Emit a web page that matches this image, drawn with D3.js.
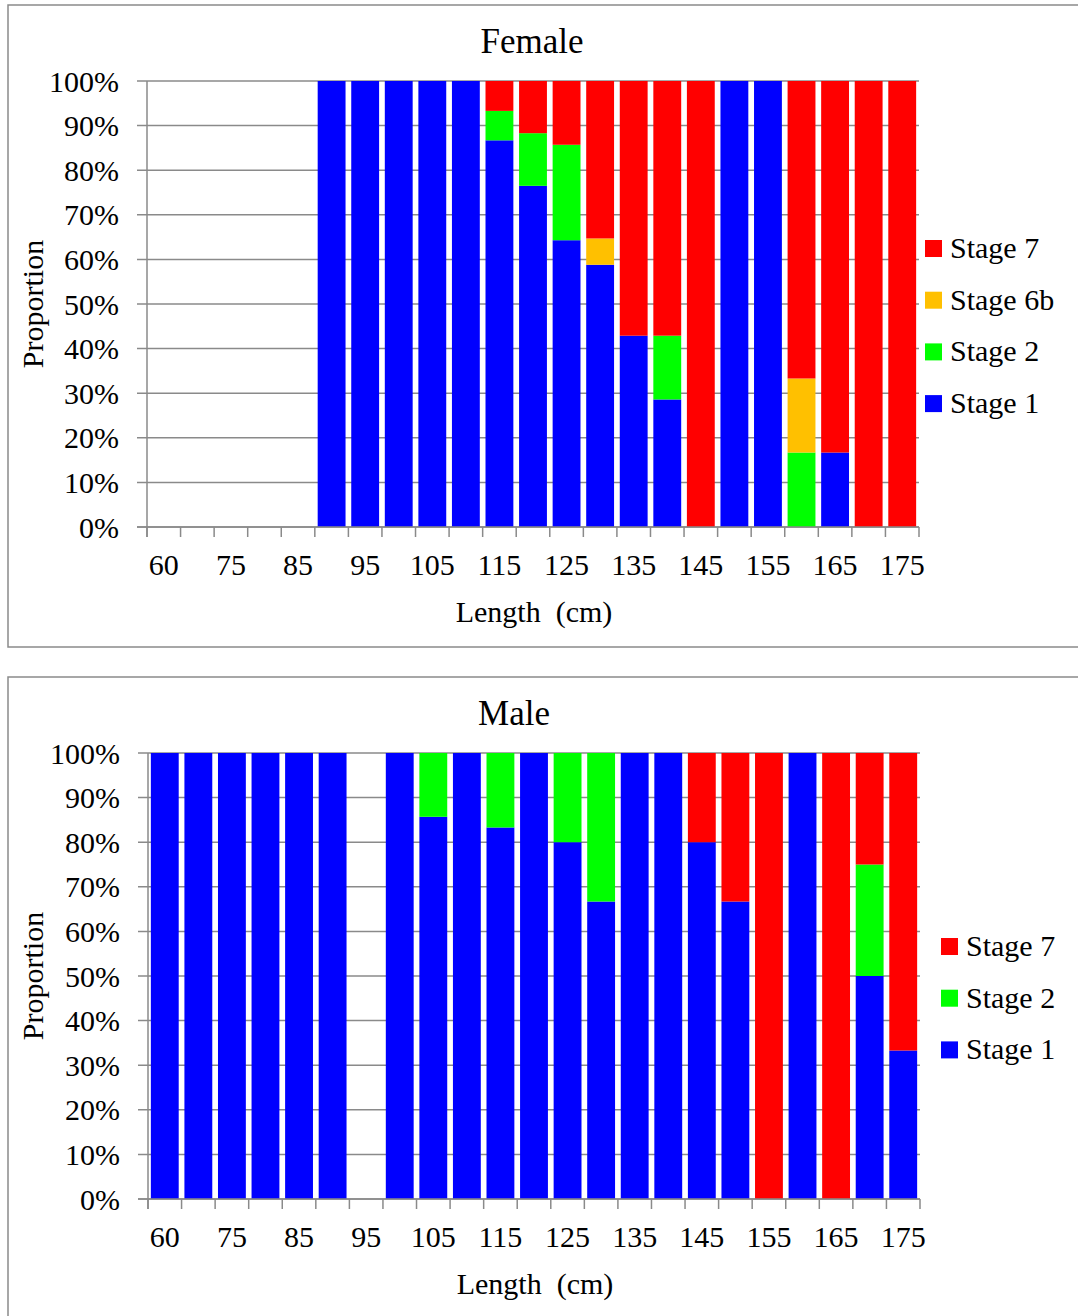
<!DOCTYPE html>
<html>
<head>
<meta charset="utf-8">
<script src="https://cdn.jsdelivr.net/npm/d3@7"></script>
<style>
  html, body { margin: 0; padding: 0; background: #fff; }
  svg { display: block; }
  text { font-family: "Liberation Serif", "Times New Roman", serif; fill: #000; }
</style>
</head>
<body>
<svg id="chart" width="1078" height="1316"></svg>
<script>
// ---------- DATA ----------
const categories = ["60","70","75","80","85","90","95","100","105","110","115","120","125","130","135","140","145","150","155","160","165","170","175"];
const tickLabels = ["60","75","85","95","105","115","125","135","145","155","165","175"];
const yTicks = [0,10,20,30,40,50,60,70,80,90,100];

// Female proportions (%)
const femaleStage1  = [0,0,0,0,0,100,100,100,100,100,86.7,76.5,64.3,58.8,42.9,28.6,0,100,100,0,16.7,0,0];
const femaleStage2  = [0,0,0,0,0,0,0,0,0,0,6.6,11.8,21.4,0,0,14.3,0,0,0,16.7,0,0,0];
const femaleStage6b = [0,0,0,0,0,0,0,0,0,0,0,0,0,5.9,0,0,0,0,0,16.6,0,0,0];
const femaleStage7  = [0,0,0,0,0,0,0,0,0,0,6.7,11.7,14.3,35.3,57.1,57.1,100,0,0,66.7,83.3,100,100];

// Male proportions (%)
const maleStage1 = [100,100,100,100,100,100,0,100,85.7,100,83.3,100,80,66.7,100,100,80,66.7,0,100,0,50,33.3];
const maleStage2 = [0,0,0,0,0,0,0,0,14.3,0,16.7,0,20,33.3,0,0,0,0,0,0,0,25,0];
const maleStage7 = [0,0,0,0,0,0,0,0,0,0,0,0,0,0,0,0,20,33.3,100,0,100,25,66.7];

const stageColors = {"Stage 1":"#0000FF","Stage 2":"#00FF00","Stage 6b":"#FFC000","Stage 7":"#FF0000"};

// ---------- LAYOUT ----------
const panels = [
  {
    title: "Female",
    series: {"Stage 1": femaleStage1, "Stage 2": femaleStage2, "Stage 6b": femaleStage6b, "Stage 7": femaleStage7},
    keys: ["Stage 1","Stage 2","Stage 6b","Stage 7"],
    frame: {x: 8, y: 5, w: 1090, h: 642},
    plot: {x0: 147, x1: 919, y0: 81, y1: 527},
    titleX: 532, titleY: 53,
    yLabelX: 33,
    xTickY: 575, xLabelX: 534, xLabelY: 622,
    legendX: 925, legendY: 240
  },
  {
    title: "Male",
    series: {"Stage 1": maleStage1, "Stage 2": maleStage2, "Stage 7": maleStage7},
    keys: ["Stage 1","Stage 2","Stage 7"],
    frame: {x: 8, y: 677, w: 1090, h: 660},
    plot: {x0: 148, x1: 920, y0: 753, y1: 1199},
    titleX: 514, titleY: 725,
    yLabelX: 33,
    xTickY: 1247, xLabelX: 535, xLabelY: 1294,
    legendX: 941, legendY: 938
  }
];

const svg = d3.select("#chart");
const gridColor = "#8a8a8a";

panels.forEach(p => {
  const g = svg.append("g");

  g.append("rect")
    .attr("x", p.frame.x).attr("y", p.frame.y)
    .attr("width", p.frame.w).attr("height", p.frame.h)
    .attr("fill", "#fff").attr("stroke", gridColor).attr("stroke-width", 1.5);

  const x = d3.scaleBand().domain(categories)
    .range([p.plot.x0, p.plot.x1]).paddingInner(0.17).paddingOuter(0.085);
  const y = d3.scaleLinear().domain([0, 100]).range([p.plot.y1, p.plot.y0]);

  // gridlines
  g.append("g").selectAll("line").data(yTicks).join("line")
    .attr("x1", p.plot.x0 - 10).attr("x2", p.plot.x1)
    .attr("y1", d => y(d)).attr("y2", d => y(d))
    .attr("stroke", gridColor).attr("stroke-width", 1.5);

  // y tick labels
  g.append("g").selectAll("text").data(yTicks).join("text")
    .attr("x", p.plot.x0 - 28).attr("y", d => y(d))
    .attr("dy", "0.35em").attr("text-anchor", "end")
    .attr("font-size", 30)
    .text(d => d + "%");

  // stacked bars
  const rows = categories.map((c, i) => {
    const r = {cat: c};
    p.keys.forEach(k => r[k] = p.series[k][i]);
    return r;
  });
  const stacked = d3.stack().keys(p.keys)(rows);
  g.append("g").selectAll("g").data(stacked).join("g")
    .attr("fill", d => stageColors[d.key])
    .selectAll("rect").data(d => d.filter(s => s[1] - s[0] > 0)).join("rect")
    .attr("x", d => x(d.data.cat))
    .attr("width", x.bandwidth())
    .attr("y", d => y(d[1]))
    .attr("height", d => y(d[0]) - y(d[1]));

  // axes lines
  g.append("line")
    .attr("x1", p.plot.x0).attr("x2", p.plot.x0)
    .attr("y1", p.plot.y0).attr("y2", p.plot.y1 + 10)
    .attr("stroke", gridColor).attr("stroke-width", 1.5);
  g.append("line")
    .attr("x1", p.plot.x0 - 10).attr("x2", p.plot.x1)
    .attr("y1", p.plot.y1).attr("y2", p.plot.y1)
    .attr("stroke", gridColor).attr("stroke-width", 1.5);

  // x tick marks at category boundaries
  const bounds = categories.map(c => x(c) - x.step() * x.paddingInner() / 2);
  bounds.push(p.plot.x1);
  g.append("g").selectAll("line").data(bounds).join("line")
    .attr("x1", d => d).attr("x2", d => d)
    .attr("y1", p.plot.y1).attr("y2", p.plot.y1 + 10)
    .attr("stroke", gridColor).attr("stroke-width", 1.5);

  // x tick labels
  g.append("g").selectAll("text").data(tickLabels).join("text")
    .attr("x", d => x(d) + x.bandwidth() / 2)
    .attr("y", p.xTickY)
    .attr("text-anchor", "middle").attr("font-size", 30)
    .text(d => d);

  // title
  g.append("text").attr("x", p.titleX).attr("y", p.titleY)
    .attr("text-anchor", "middle").attr("font-size", 35).text(p.title);

  // axis titles
  g.append("text")
    .attr("transform", `translate(${p.yLabelX + 10},${(p.plot.y0 + p.plot.y1) / 2}) rotate(-90)`)
    .attr("text-anchor", "middle").attr("font-size", 30).text("Proportion");
  g.append("text").attr("x", p.xLabelX).attr("y", p.xLabelY)
    .attr("text-anchor", "middle").attr("font-size", 30)
    .attr("xml:space", "preserve").style("white-space", "pre")
    .text("Length  (cm)");

  // legend (reverse order)
  const legKeys = p.keys.slice().reverse();
  const leg = g.append("g").selectAll("g").data(legKeys).join("g")
    .attr("transform", (d, i) => `translate(${p.legendX},${p.legendY + i * 51.7})`);
  leg.append("rect").attr("width", 17).attr("height", 17)
    .attr("fill", d => stageColors[d]);
  leg.append("text").attr("x", 25).attr("y", 18)
    .attr("font-size", 30).text(d => d);
});
</script>
</body>
</html>
